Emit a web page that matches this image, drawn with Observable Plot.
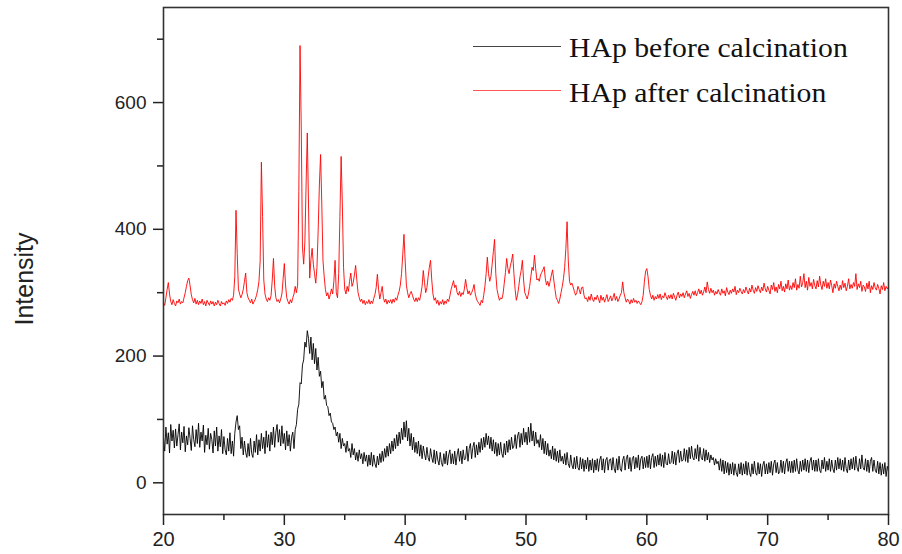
<!DOCTYPE html>
<html>
<head>
<meta charset="utf-8">
<script src="https://cdn.jsdelivr.net/npm/d3@7"></script>
<script src="https://cdn.jsdelivr.net/npm/@observablehq/plot@0.6"></script>
<style>
  html, body { margin: 0; padding: 0; background: #fff; }
  #wrap { position: relative; width: 902px; height: 554px; }
  .leg-line { position: absolute; height: 0; }
  .leg-text { position: absolute; font-family: "Liberation Serif", "Times New Roman", serif; font-size: 27px; line-height: 27px; color: #111; white-space: nowrap; transform: scaleX(1.1); transform-origin: left center; }
  .ylab { position: absolute; left: 24px; top: 279px; font-family: "Liberation Sans", Arial, sans-serif; font-size: 25px; line-height: 25px; color: #222; white-space: nowrap; transform: translate(-50%, -50%) rotate(-90deg); }
</style>
</head>
<body>
<div id="wrap"></div>
<script>
// 2θ axis ticks
const xMajorTicks = [20, 30, 40, 50, 60, 70, 80];
const xMinorTicks = [25, 35, 45, 55, 65, 75];
const yMajorTicks = [0, 200, 400, 600];
const yMinorTicks = [100, 300, 500, 700];
const yTitle = "Intensity";

const seriesNames = ["HAp before calcination", "HAp after calcination"];
const seriesColors = ["#000000", "#ff0000"];

// Intensity read at 0.1° steps; one row per degree (row 0 = 20.0–20.9°)
const beforeRows = [
  [72, 50, 88, 61, 79, 47, 92, 66, 83, 55],
  [85, 58, 76, 93, 52, 80, 63, 89, 49, 74],
  [60, 87, 70, 51, 90, 68, 57, 84, 62, 94],
  [56, 80, 66, 91, 48, 75, 60, 86, 53, 78],
  [68, 47, 82, 58, 88, 50, 74, 57, 84, 46],
  [73, 52, 44, 70, 50, 79, 46, 66, 42, 78],
  [96, 106, 84, 90, 54, 72, 44, 66, 48, 40],
  [62, 42, 70, 46, 40, 66, 48, 76, 44, 68],
  [50, 78, 54, 72, 46, 82, 56, 76, 50, 80],
  [60, 88, 56, 80, 92, 64, 84, 58, 90, 62],
  [78, 52, 82, 58, 76, 50, 72, 80, 54, 84],
  [92, 116, 124, 158, 156, 186, 194, 222, 214, 240],
  [228, 204, 230, 194, 220, 188, 212, 178, 198, 168],
  [176, 150, 160, 132, 138, 122, 120, 106, 110, 96],
  [94, 84, 88, 74, 80, 64, 78, 54, 70, 58],
  [62, 48, 66, 50, 54, 40, 62, 44, 54, 36],
  [48, 34, 52, 38, 46, 30, 48, 34, 44, 26],
  [44, 28, 48, 26, 44, 30, 24, 42, 28, 46],
  [32, 50, 34, 54, 40, 58, 42, 62, 46, 66],
  [50, 70, 54, 76, 58, 80, 62, 86, 68, 96],
  [72, 98, 66, 86, 58, 78, 52, 72, 48, 64],
  [46, 66, 42, 60, 38, 58, 46, 36, 56, 40],
  [34, 54, 40, 32, 52, 30, 50, 36, 28, 48],
  [32, 26, 46, 30, 50, 28, 44, 52, 30, 46],
  [30, 50, 28, 44, 54, 34, 50, 30, 52, 36],
  [38, 58, 34, 54, 62, 38, 56, 64, 40, 60],
  [44, 64, 48, 70, 52, 72, 56, 78, 60, 74],
  [54, 72, 50, 68, 46, 64, 42, 62, 44, 64],
  [46, 40, 62, 44, 66, 48, 68, 52, 72, 54],
  [58, 76, 54, 74, 80, 56, 78, 60, 86, 64],
  [80, 60, 88, 64, 94, 66, 82, 58, 80, 62],
  [68, 56, 76, 52, 70, 46, 66, 44, 62, 42],
  [52, 38, 58, 36, 54, 34, 50, 32, 52, 34],
  [42, 30, 46, 28, 48, 30, 24, 44, 28, 22],
  [40, 22, 42, 24, 20, 40, 22, 38, 18, 36],
  [22, 40, 18, 36, 20, 38, 16, 36, 20, 38],
  [18, 36, 42, 20, 38, 16, 36, 40, 20, 36],
  [38, 20, 40, 22, 16, 38, 20, 42, 22, 18],
  [36, 42, 20, 38, 44, 22, 40, 18, 38, 42],
  [22, 40, 24, 44, 20, 38, 42, 22, 40, 24],
  [42, 24, 44, 22, 40, 46, 24, 42, 26, 44],
  [28, 46, 26, 44, 24, 48, 30, 28, 46, 30],
  [32, 50, 30, 48, 28, 46, 52, 32, 50, 34],
  [36, 54, 34, 52, 32, 56, 38, 58, 40, 36],
  [54, 38, 60, 34, 56, 40, 36, 54, 34, 52],
  [36, 48, 32, 44, 36, 40, 28, 38, 30, 34],
  [20, 38, 18, 36, 14, 34, 16, 32, 12, 30],
  [14, 32, 12, 30, 16, 10, 30, 14, 32, 12],
  [30, 14, 34, 12, 32, 16, 10, 30, 14, 34],
  [16, 12, 32, 14, 30, 10, 28, 34, 14, 30],
  [14, 32, 16, 34, 12, 30, 36, 16, 32, 14],
  [18, 36, 16, 34, 14, 32, 38, 18, 34, 16],
  [34, 16, 36, 18, 38, 20, 14, 34, 18, 36],
  [20, 38, 18, 36, 16, 34, 40, 20, 36, 18],
  [36, 18, 38, 20, 16, 36, 22, 40, 18, 34],
  [20, 38, 18, 36, 22, 16, 36, 20, 40, 22],
  [38, 20, 36, 18, 40, 22, 16, 36, 20, 38],
  [22, 40, 20, 42, 24, 18, 38, 22, 44, 24],
  [20, 38, 18, 36, 16, 34, 40, 18, 36, 20],
  [16, 34, 14, 32, 12, 30, 14, 32, 10, 26]
];
const beforeLast = 18; // 80.0°

const afterRows = [
  [284, 280, 292, 305, 316, 298, 286, 281, 289, 283],
  [279, 287, 284, 290, 282, 286, 284, 292, 300, 310],
  [319, 323, 311, 297, 289, 284, 291, 282, 288, 281],
  [287, 283, 290, 281, 286, 279, 288, 284, 280, 287],
  [282, 286, 279, 285, 281, 288, 283, 279, 286, 282],
  [284, 280, 287, 283, 289, 285, 291, 288, 296, 325],
  [430, 362, 306, 298, 292, 297, 305, 318, 331, 300],
  [292, 288, 284, 290, 282, 286, 290, 296, 305, 318],
  [350, 506, 420, 320, 298, 290, 286, 292, 288, 295],
  [320, 354, 310, 292, 286, 289, 284, 290, 298, 322],
  [346, 312, 292, 286, 282, 289, 284, 292, 298, 310],
  [300, 312, 460, 690, 560, 372, 345, 380, 470, 552],
  [440, 323, 352, 370, 345, 330, 315, 340, 398, 470],
  [518, 440, 350, 325, 305, 295, 300, 290, 297, 306],
  [298, 318, 351, 300, 292, 330, 420, 515, 440, 340],
  [305, 298, 310, 302, 318, 331, 310, 316, 328, 343],
  [320, 300, 292, 286, 290, 283, 288, 281, 286, 283],
  [289, 282, 287, 283, 291, 297, 308, 329, 305, 290],
  [300, 310, 292, 285, 290, 282, 288, 284, 289, 283],
  [290, 285, 292, 288, 296, 302, 312, 330, 360, 392],
  [350, 312, 300, 292, 298, 302, 296, 290, 286, 292],
  [286, 292, 288, 298, 310, 335, 316, 300, 308, 325],
  [340, 351, 320, 298, 288, 292, 283, 288, 280, 286],
  [282, 289, 281, 287, 283, 290, 286, 295, 305, 312],
  [319, 308, 312, 300, 296, 302, 294, 300, 297, 306],
  [321, 308, 298, 303, 296, 300, 305, 313, 298, 290],
  [286, 283, 280, 288, 284, 296, 310, 330, 356, 330],
  [318, 326, 345, 365, 384, 330, 305, 296, 288, 292],
  [290, 298, 315, 332, 354, 338, 330, 342, 350, 361],
  [330, 305, 288, 296, 310, 325, 335, 351, 320, 300],
  [295, 290, 298, 310, 325, 340, 335, 359, 338, 320],
  [322, 318, 328, 332, 336, 341, 322, 312, 318, 310],
  [318, 328, 336, 320, 305, 292, 288, 283, 290, 300],
  [310, 322, 340, 370, 412, 350, 318, 312, 315, 309],
  [302, 296, 300, 310, 305, 298, 308, 309, 296, 290],
  [292, 286, 294, 288, 298, 290, 286, 293, 289, 296],
  [290, 284, 296, 288, 293, 285, 291, 297, 286, 290],
  [295, 287, 292, 299, 288, 294, 286, 290, 296, 300],
  [317, 300, 292, 285, 290, 287, 282, 289, 284, 291],
  [285, 288, 283, 287, 284, 281, 286, 296, 318, 334],
  [338, 325, 305, 296, 290, 296, 288, 294, 290, 297],
  [291, 298, 289, 295, 292, 300, 294, 289, 296, 291],
  [297, 290, 299, 293, 288, 296, 301, 292, 298, 294],
  [300, 292, 298, 303, 294, 299, 291, 297, 302, 296],
  [303, 295, 300, 306, 298, 304, 296, 301, 309, 300],
  [317, 305, 299, 307, 300, 304, 296, 302, 298, 305],
  [300, 296, 306, 299, 303, 295, 308, 301, 297, 304],
  [299, 306, 301, 310, 297, 304, 300, 307, 302, 298],
  [305, 300, 309, 303, 298, 307, 301, 312, 304, 299],
  [308, 302, 311, 305, 300, 309, 303, 315, 306, 301],
  [310, 304, 298, 312, 305, 316, 302, 309, 300, 313],
  [306, 318, 303, 310, 301, 314, 306, 320, 304, 311],
  [305, 316, 308, 322, 304, 313, 307, 326, 309, 315],
  [330, 308, 318, 304, 324, 310, 316, 306, 321, 311],
  [306, 319, 309, 326, 312, 305, 318, 310, 322, 307],
  [316, 306, 320, 311, 300, 314, 307, 318, 310, 303],
  [312, 305, 319, 308, 315, 303, 310, 322, 306, 313],
  [307, 316, 310, 330, 305, 314, 308, 318, 302, 312],
  [309, 302, 315, 306, 318, 300, 311, 305, 316, 308],
  [304, 313, 307, 298, 311, 305, 316, 303, 310, 306]
];
const afterLast = 309; // 80.0°

function toPoints(rows, last, name) {
  const pts = [];
  rows.forEach((row, i) => row.forEach((v, j) => pts.push({angle: 20 + i + j / 10, intensity: v, series: name})));
  pts.push({angle: 80, intensity: last, series: name});
  return pts;
}
const before = toPoints(beforeRows, beforeLast, seriesNames[0]);
const after = toPoints(afterRows, afterLast, seriesNames[1]);

const chart = Plot.plot({
  width: 902,
  height: 554,
  marginLeft: 163,
  marginRight: 14,
  marginTop: 7,
  marginBottom: 40,
  style: {background: "#fff", color: "#222", fontFamily: "'Liberation Sans', Arial, sans-serif"},
  x: {domain: [20, 80], label: null},
  y: {domain: [-50, 750], label: null},
  marks: [
    Plot.line(before, {x: "angle", y: "intensity", stroke: seriesColors[0], strokeWidth: 0.9}),
    Plot.line(after, {x: "angle", y: "intensity", stroke: seriesColors[1], strokeWidth: 0.9}),
    Plot.frame({stroke: "#333", strokeWidth: 1.6}),
    Plot.axisX({ticks: xMajorTicks, tickSize: 11, tickPadding: 6, fontSize: 20, strokeWidth: 1.5, tickFormat: d => String(d), label: null}),
    Plot.axisX({ticks: xMinorTicks, tickSize: 6, strokeWidth: 1.5, tickFormat: () => "", label: null}),
    Plot.axisY({ticks: yMajorTicks, tickSize: 10, tickPadding: 7, fontSize: 19, strokeWidth: 1.5, tickFormat: d => String(d), label: null}),
    Plot.axisY({ticks: yMinorTicks, tickSize: 6, strokeWidth: 1.5, tickFormat: () => "", label: null})
  ]
});

const wrap = document.getElementById("wrap");
wrap.appendChild(chart);

// y-axis title
const yl = document.createElement("div");
yl.className = "ylab";
yl.textContent = yTitle;
wrap.appendChild(yl);

// legend overlay
const legendRows = [
  {name: seriesNames[0], color: "#444", lineTop: 46, textTop: 35},
  {name: seriesNames[1], color: "#ff5555", lineTop: 90, textTop: 80}
];
legendRows.forEach(r => {
  const line = document.createElement("div");
  line.className = "leg-line";
  line.style.left = "473px";
  line.style.width = "88px";
  line.style.top = r.lineTop + "px";
  line.style.borderTop = "1px solid " + r.color;
  wrap.appendChild(line);
  const t = document.createElement("div");
  t.className = "leg-text";
  t.style.left = "569px";
  t.style.top = r.textTop + "px";
  t.textContent = r.name;
  wrap.appendChild(t);
});
</script>
</body>
</html>
